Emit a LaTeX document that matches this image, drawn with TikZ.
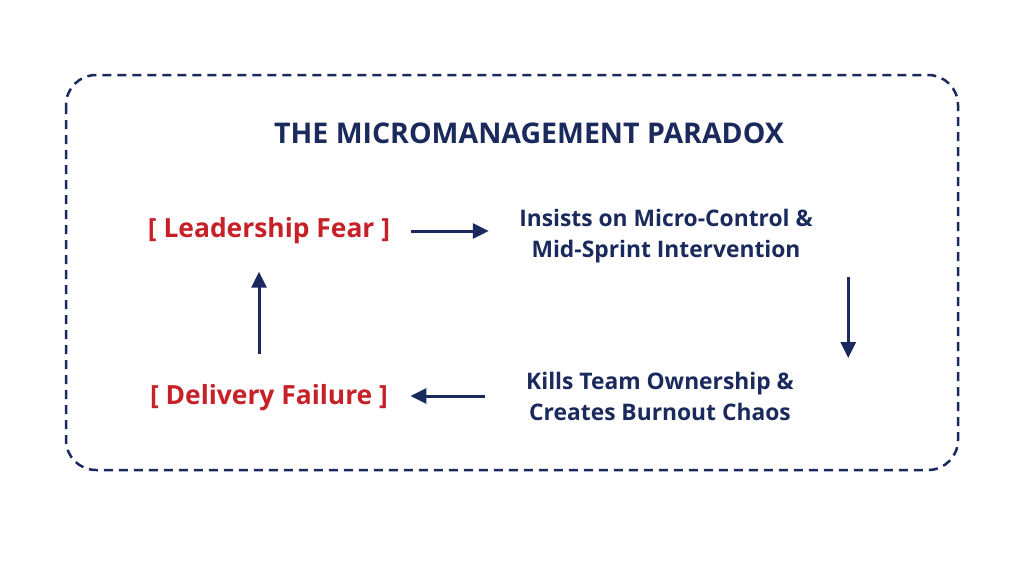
\documentclass[tikz,border=0pt]{standalone}
\usepackage{fontspec}
\setmainfont{Open Sans}
\usetikzlibrary{arrows.meta,positioning,calc}
\definecolor{navy}{HTML}{1B2A5C}
\definecolor{alarm}{HTML}{C62128}
\tikzset{
  heading/.style={text=navy, font=\bfseries\fontsize{28.5}{32}\selectfont},
  cause/.style={text=alarm, font=\bfseries\fontsize{26.4}{30}\selectfont},
  effect/.style={text=navy, font=\bfseries\fontsize{22.8}{31}\selectfont, align=center},
  flow/.style={navy, line width=3pt, -{Triangle[length=16pt,width=15pt]}},
}
\begin{document}
\begin{tikzpicture}[x=1pt,y=1pt]
  \useasboundingbox [fill=white] (0,0) rectangle (1024,-576);
  % frame
  \draw [navy, line width=2.5pt, dash pattern=on 9pt off 6pt, rounded corners=30pt]
    (66,-75) rectangle (958,-470);
  \node [heading] (title) at (529,-133) {THE MICROMANAGEMENT PARADOX};
  % the loop
  \node [cause] (fear) at (269,-231) {[ Leadership Fear ]};
  \node [effect] (control) at (666,-236) {Insists on Micro-Control \&\\ Mid-Sprint Intervention};
  \node [effect] (ownership) at (660,-396) {Kills Team Ownership \&\\ Creates Burnout Chaos};
  \node [cause] (failure) at (269,-398) {[ Delivery Failure ]};
  \draw [flow, shorten <=17pt, shorten >=27pt] (fear.east) -- (fear.east -| control.west);
  \draw [flow] ($(control.east)+(32,-41)$) -- ($(control.east |- ownership.center)+(32,38)$);
  \draw [flow, shorten <=38pt, shorten >=19pt] (ownership.west) -- (ownership.west -| failure.east);
  \draw [flow, shorten <=27pt, shorten >=24pt] ([xshift=-10pt]failure.north) -- ([xshift=-10pt]failure.north |- fear.south);
\end{tikzpicture}
\end{document}
